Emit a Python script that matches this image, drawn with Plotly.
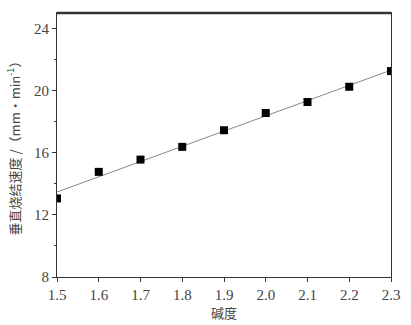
import numpy as np
import plotly.graph_objects as go

basicity = [1.5, 1.6, 1.7, 1.8, 1.9, 2.0, 2.1, 2.2, 2.3]
speed = [13.06, 14.77, 15.56, 16.38, 17.45, 18.56, 19.27, 20.25, 21.26]
x_ticks = [1.5, 1.6, 1.7, 1.8, 1.9, 2.0, 2.1, 2.2, 2.3]
x_tick_text = ["1.5", "1.6", "1.7", "1.8", "1.9", "2.0", "2.1", "2.2", "2.3"]
y_ticks = [8, 12, 16, 20, 24]

slope, intercept = np.polyfit(basicity, speed, 1)
fit_x = [basicity[0], basicity[-1]]
fit_y = [slope * v + intercept for v in fit_x]

fig = go.Figure()
fig.add_trace(go.Scatter(x=fit_x, y=fit_y, mode="lines",
                         line=dict(color="#888888", width=1), showlegend=False))
fig.add_trace(go.Scatter(x=basicity, y=speed, mode="markers",
                         marker=dict(symbol="square", size=8, color="black"),
                         showlegend=False, cliponaxis=True))

font_col = "#444444"
fig.update_layout(
    width=411, height=325,
    margin=dict(l=57, r=20, t=13, b=48),
    paper_bgcolor="white", plot_bgcolor="white",
    font=dict(family="Liberation Serif, Times New Roman, serif", size=15, color=font_col),
    xaxis=dict(range=[1.5, 2.3], tickvals=x_ticks, ticktext=x_tick_text,
               ticks="outside", ticklen=4, tickcolor="#333", showgrid=False,
               zeroline=False, showline=True, linecolor="#333", linewidth=1,
               mirror=True, automargin=False,
               title=dict(text="碱度", standoff=5,
                          font=dict(family="Noto Sans CJK SC", size=13, color=font_col))),
    yaxis=dict(range=[8, 25], tickvals=y_ticks, ticks="outside", ticklen=4,
               tickcolor="#333", showgrid=False, zeroline=False, showline=True,
               linecolor="#333", linewidth=1, mirror=True, automargin=False,
               minor=dict(tickvals=[10, 14, 18, 22], ticks="outside", ticklen=2, tickcolor="#333"),
               title=dict(text="垂直烧结速度 /（mm·min<sup>-1</sup>）", standoff=10,
                          font=dict(family="Noto Sans CJK SC", size=13, color=font_col))),
)
fig.add_shape(type="line", xref="paper", yref="paper", x0=0, x1=1, y0=1, y1=1,
              line=dict(color="#333", width=2.5))
fig.write_html("out.html", config={"displayModeBar": False},
               post_script="document.body.style.margin='0';")
